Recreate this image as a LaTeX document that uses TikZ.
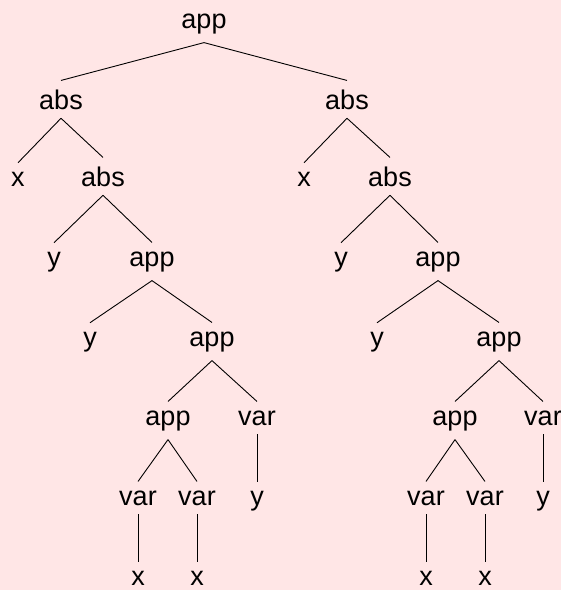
\documentclass[tikz,border=0pt]{standalone}
\usepackage{fontspec}
\setmainfont{Liberation Sans}
\definecolor{bgpink}{RGB}{255,230,230}
\begin{document}
\begin{tikzpicture}[x=1pt,y=-1pt,
  tn/.style={font=\fontsize{27}{32}\selectfont, inner sep=9pt, outer sep=0pt, anchor=base},
  link/.style={draw=black, line width=0.9pt}]
\fill[bgpink] (0,0) rectangle (561,590);
\useasboundingbox (0,0) rectangle (561,590);
% level 0
\node[tn] (r) at (204,28) {app};
% level 1
\node[tn] (a1) at (61,109) {abs};
\node[tn] (b1) at (347,109) {abs};
% level 2
\node[tn] (ax) at (18,186) {x};
\node[tn] (a2) at (103,186) {abs};
\node[tn] (bx) at (304,186) {x};
\node[tn] (b2) at (390,186) {abs};
% level 3
\node[tn] (ay) at (54,266) {y};
\node[tn] (a3) at (152,266) {app};
\node[tn] (by) at (341,266) {y};
\node[tn] (b3) at (438,266) {app};
% level 4
\node[tn] (ay4) at (90,346) {y};
\node[tn] (a4) at (212,346) {app};
\node[tn] (by4) at (377,346) {y};
\node[tn] (b4) at (499,346) {app};
% level 5
\node[tn] (a5) at (168,425) {app};
\node[tn] (av) at (257,425) {var};
\node[tn] (b5) at (455,425) {app};
\node[tn] (bv) at (543,425) {var};
% level 6
\node[tn] (a6l) at (138,505) {var};
\node[tn] (a6r) at (197,505) {var};
\node[tn] (avy) at (257,505) {y};
\node[tn] (b6l) at (426,505) {var};
\node[tn] (b6r) at (485,505) {var};
\node[tn] (bvy) at (543,505) {y};
% level 7
\node[tn] (a7l) at (138,585) {x};
\node[tn] (a7r) at (197,585) {x};
\node[tn] (b7l) at (426,585) {x};
\node[tn] (b7r) at (485,585) {x};
% connectors
\draw[link] (r.south) -- (a1.north);
\draw[link] (r.south) -- (b1.north);
\draw[link] (a1.south) -- (ax.north);
\draw[link] (a1.south) -- (a2.north);
\draw[link] (b1.south) -- (bx.north);
\draw[link] (b1.south) -- (b2.north);
\draw[link] (a2.south) -- (ay.north);
\draw[link] (a2.south) -- (a3.north);
\draw[link] (b2.south) -- (by.north);
\draw[link] (b2.south) -- (b3.north);
\draw[link] (a3.south) -- (ay4.north);
\draw[link] (a3.south) -- (a4.north);
\draw[link] (b3.south) -- (by4.north);
\draw[link] (b3.south) -- (b4.north);
\draw[link] (a4.south) -- (a5.north);
\draw[link] (a4.south) -- (av.north);
\draw[link] (b4.south) -- (b5.north);
\draw[link] (b4.south) -- (bv.north);
\draw[link] (a5.south) -- (a6l.north);
\draw[link] (a5.south) -- (a6r.north);
\draw[link] (av.south) -- (avy.north);
\draw[link] (b5.south) -- (b6l.north);
\draw[link] (b5.south) -- (b6r.north);
\draw[link] (bv.south) -- (bvy.north);
\draw[link] (a6l.south) -- (a7l.north);
\draw[link] (a6r.south) -- (a7r.north);
\draw[link] (b6l.south) -- (b7l.north);
\draw[link] (b6r.south) -- (b7r.north);
\end{tikzpicture}
\end{document}
